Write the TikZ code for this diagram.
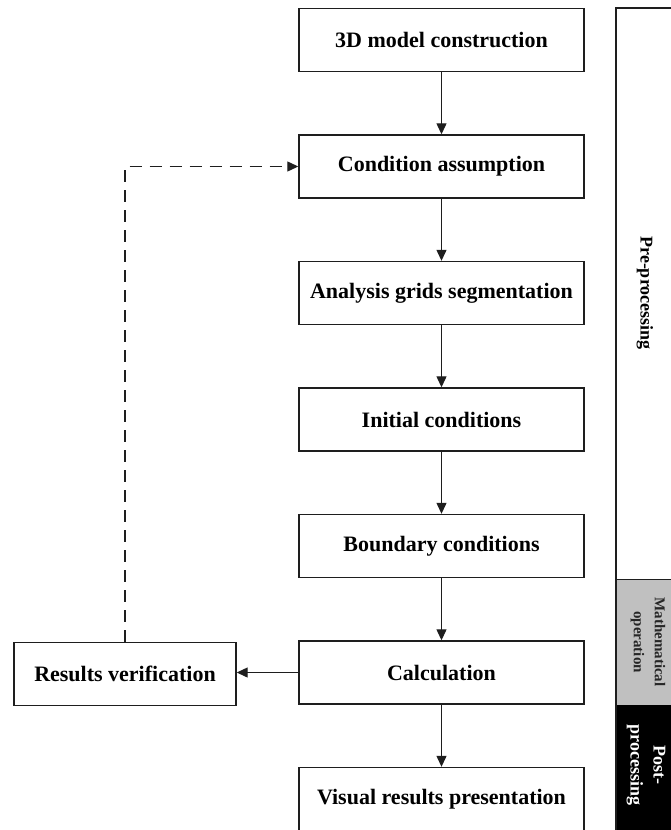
\documentclass[tikz,border=0pt]{standalone}
\usepackage{fontspec}
\setmainfont{Liberation Serif}
\usetikzlibrary{arrows.meta}
\definecolor{midgray}{RGB}{192,192,192}
\definecolor{edge}{RGB}{30,30,30}
\begin{document}
\begin{tikzpicture}[x=1pt,y=-1pt,
  box/.style={draw=edge,line width=1.4pt,minimum width=285pt,minimum height=63pt,inner sep=0pt,
    font=\fontsize{22}{26}\selectfont\bfseries},
  arr/.style={-{Triangle[length=11pt,width=10pt]},line width=1.2pt,draw=edge},
  dasharr/.style={arr,dash pattern=on 12pt off 8pt},
  sidelabel/.style={rotate=-90,align=center,inner sep=0pt,font=\bfseries}
]
\useasboundingbox (0,0) rectangle (670,830);

% main flow
\node[box] (b1) at (441.5,40) {3D model construction};
\node[box] (b2) at (441.5,166.5) {Condition assumption};
\node[box] (b3) at (441.5,293) {Analysis grids segmentation};
\node[box] (b4) at (441.5,419.5) {Initial conditions};
\node[box] (b5) at (441.5,546) {Boundary conditions};
\node[box] (b6) at (441.5,672.5) {Calculation};
\node[box] (b7) at (441.5,799) {Visual results presentation};
\node[box,minimum width=222pt] (rv) at (125,674) {Results verification};

\draw[arr] (b1) -- (b2);
\draw[arr] (b2) -- (b3);
\draw[arr] (b3) -- (b4);
\draw[arr] (b4) -- (b5);
\draw[arr] (b5) -- (b6);
\draw[arr] (b6) -- (b7);
\draw[arr] (b6.west) -- (rv.east |- b6.west);
\draw[dasharr] (rv.north) |- (b2.west);

% side bar
\fill[midgray] (616,579) rectangle (672,705);
\fill[black] (616,705) rectangle (672,832);
\draw[line width=1.4pt,draw=edge] (672,8) -- (616,8) -- (616,832);
\draw[line width=1pt,draw=edge] (616,579) -- (672,579);
\node[sidelabel,font=\fontsize{18}{22}\selectfont\bfseries] (pre) at (645,293) {Pre-processing};
\node[sidelabel,font=\fontsize{15}{21}\selectfont\bfseries,text=black!85] (math) at (648,642) {Mathematical\\operation};
\node[sidelabel,font=\fontsize{18}{23}\selectfont\bfseries,text=white] (post) at (646,765) {Post-\\processing};
\end{tikzpicture}
\end{document}
